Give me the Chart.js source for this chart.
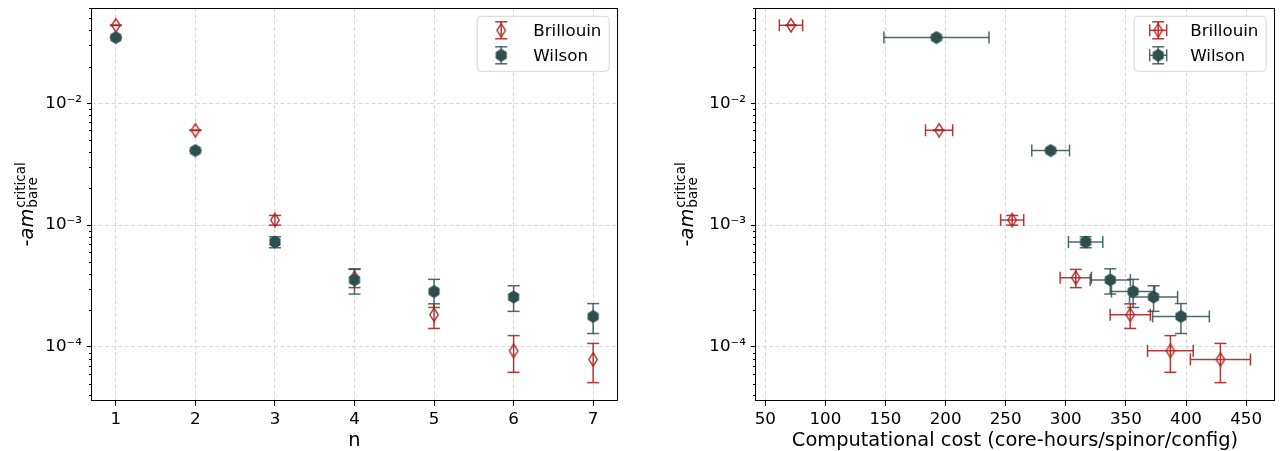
<!DOCTYPE html>
<html>
<head>
<meta charset="utf-8">
<script src="https://cdn.jsdelivr.net/npm/chart.js@4.4.1/dist/chart.umd.min.js"></script>
<style>
  html, body { margin: 0; padding: 0; background: #fff; }
  #wrap { position: relative; width: 1281px; height: 451px; overflow: hidden; }
  canvas { position: absolute; top: 0; }
</style>
</head>
<body>
<div id="wrap">
  <canvas id="left" width="640" height="451" style="left:0"></canvas>
  <canvas id="right" width="641" height="451" style="left:640px"></canvas>
</div>
<script>
// values
const nValues = [1, 2, 3, 4, 5, 6, 7];
const brillouinAm = [4.36e-2, 6.0e-3, 1.10e-3, 3.70e-4, 1.84e-4, 9.3e-5, 7.9e-5];
const brillouinAmErr = [2e-4, 3e-5, 1.0e-4, 6.3e-5, 4.2e-5, 3.1e-5, 2.8e-5];
const wilsonAm = [3.46e-2, 4.09e-3, 7.27e-4, 3.55e-4, 2.85e-4, 2.57e-4, 1.78e-4];
const wilsonAmErr = [3e-4, 3e-5, 7.5e-5, 8.3e-5, 7.4e-5, 6.1e-5, 4.9e-5];
const brillouinCost = [71.4, 194.6, 255.4, 308.3, 353.6, 387, 428.6];
const brillouinCostErr = [9.7, 11.3, 9.6, 13, 16.7, 19, 25];
const wilsonCost = [192.4, 287.4, 316.5, 337, 356, 373, 395.8];
const wilsonCostErr = [43.7, 15.7, 14.3, 16.7, 18, 20, 23.6];

const seriesNames = ['Brillouin', 'Wilson'];
const yMajorTicks = [1e-4, 1e-3, 1e-2];
const yTickLabels = ['10⁻⁴', '10⁻³', '10⁻²'];
const nTicks = [1, 2, 3, 4, 5, 6, 7];
const costTicks = [50, 100, 150, 200, 250, 300, 350, 400, 450];

const Y_MIN = 3.605e-5, Y_MAX = 0.0610;
const BRILL = '#b22222', WILSON = '#2f4f4f';
const GRID = '#d9d9d9';
const TICK_PX = 16.7, LABEL_PX = 19.4;
const CAP = 6;

Chart.defaults.font.family = '"DejaVu Sans"';
Chart.defaults.color = '#000';

// marker images
function diamondMarker() {
  const c = document.createElement('canvas');
  c.width = 12; c.height = 17;
  const g = c.getContext('2d');
  g.strokeStyle = BRILL; g.lineWidth = 1.4;
  g.beginPath();
  g.moveTo(6, 1.8); g.lineTo(10.2, 8.5); g.lineTo(6, 15.2); g.lineTo(1.8, 8.5);
  g.closePath(); g.stroke();
  return c;
}
function hexMarker() {
  const c = document.createElement('canvas');
  c.width = 14; c.height = 14;
  const g = c.getContext('2d');
  g.fillStyle = WILSON;
  g.beginPath();
  for (let k = 0; k < 6; k++) {
    const a = -Math.PI / 2 + k * Math.PI / 3;
    const px = 7 + 6.4 * Math.cos(a), py = 7 + 6.4 * Math.sin(a);
    k ? g.lineTo(px, py) : g.moveTo(px, py);
  }
  g.closePath(); g.fill();
  return c;
}
const diamondImg = diamondMarker();
const hexImg = hexMarker();

function logTicks() {
  const ticks = [];
  for (let e = -5; e <= -1; e++) {
    for (let m = 1; m <= 9; m++) {
      const v = m * Math.pow(10, e);
      if (v < Y_MIN || v > Y_MAX) continue;
      const k = yMajorTicks.findIndex(t => Math.abs(t - v) / t < 1e-9);
      ticks.push(k >= 0 ? { value: yMajorTicks[k], major: true } : { value: v, major: false });
    }
  }
  return ticks;
}

function seg(g, x1, y1, x2, y2) {
  g.beginPath(); g.moveTo(x1, y1); g.lineTo(x2, y2); g.stroke();
}

const errorBars = {
  id: 'errorBars',
  beforeDatasetDraw(chart, args) {
    const ds = chart.data.datasets[args.index];
    const xs = chart.scales.x, ys = chart.scales.y;
    const g = chart.ctx;
    g.save();
    g.strokeStyle = ds.barColor;
    g.lineWidth = 1.5;
    ds.data.forEach((p, i) => {
      const px = xs.getPixelForValue(p.x), py = ys.getPixelForValue(p.y);
      if (ds.yErr) {
        const y1 = ys.getPixelForValue(p.y - ds.yErr[i]);
        const y2 = ys.getPixelForValue(p.y + ds.yErr[i]);
        seg(g, px, y1, px, y2);
        seg(g, px - CAP, y1, px + CAP, y1);
        seg(g, px - CAP, y2, px + CAP, y2);
      }
      if (ds.xErr) {
        const x1 = xs.getPixelForValue(p.x - ds.xErr[i]);
        const x2 = xs.getPixelForValue(p.x + ds.xErr[i]);
        seg(g, x1, py, x2, py);
        seg(g, x1, py - CAP, x1, py + CAP);
        seg(g, x2, py - CAP, x2, py + CAP);
      }
    });
    g.restore();
  }
};

function drawYLabel(g, x, y) {
  const big = LABEL_PX + 'px "DejaVu Sans"';
  const it = 'italic ' + big;
  const small = (LABEL_PX * 0.7).toFixed(1) + 'px "DejaVu Sans"';
  g.save();
  g.translate(x, y);
  g.rotate(-Math.PI / 2);
  g.fillStyle = '#000';
  g.textAlign = 'left';
  g.textBaseline = 'alphabetic';
  g.font = big; const w1 = g.measureText('-').width;
  g.font = it; const w2 = g.measureText('am').width;
  g.font = small; const w3 = Math.max(g.measureText('critical').width, g.measureText('bare').width);
  let s = -(w1 + w2 + w3 + 1) / 2;
  g.font = big; g.fillText('-', s, 0); s += w1;
  g.font = it; g.fillText('am', s, 0); s += w2 + 1;
  g.font = small;
  g.fillText('critical', s, -8);
  g.fillText('bare', s, 3.5);
  g.restore();
}

function drawLegend(g, area, cross) {
  const w = 132, h = 55;
  const l = area.right - 8.3 - w, t = area.top + 8.3;
  g.save();
  g.fillStyle = 'rgba(255,255,255,0.8)';
  g.strokeStyle = 'rgba(204,204,204,0.8)';
  g.lineWidth = 1;
  g.beginPath();
  g.roundRect(l + 0.5, t + 0.5, w, h, 4);
  g.fill(); g.stroke();
  const rows = [
    { img: diamondImg, color: 'rgba(178,34,34,0.9)' },
    { img: hexImg, color: 'rgba(47,79,79,0.85)' }
  ];
  rows.forEach((r, k) => {
    const cx = l + 24.5, cy = t + 14.5 + k * 25;
    g.strokeStyle = r.color; g.lineWidth = 1.5;
    seg(g, cx, cy - 8.5, cx, cy + 8.5);
    seg(g, cx - CAP, cy - 8.5, cx + CAP, cy - 8.5);
    seg(g, cx - CAP, cy + 8.5, cx + CAP, cy + 8.5);
    if (cross) {
      seg(g, cx - 8.5, cy, cx + 8.5, cy);
      seg(g, cx - 8.5, cy - CAP, cx - 8.5, cy + CAP);
      seg(g, cx + 8.5, cy - CAP, cx + 8.5, cy + CAP);
    }
    g.drawImage(r.img, cx - r.img.width / 2, cy - r.img.height / 2);
    g.fillStyle = '#000';
    g.font = TICK_PX + 'px "DejaVu Sans"';
    g.textBaseline = 'middle';
    g.fillText(seriesNames[k], l + 56.5, cy + 1);
  });
  g.restore();
}

const decor = {
  id: 'decor',
  afterDatasetsDraw(chart) {
    const g = chart.ctx, a = chart.chartArea, ys = chart.scales.y;
    g.save();
    g.strokeStyle = '#000';
    g.lineWidth = 1;
    g.strokeRect(Math.round(a.left) - 0.5, Math.round(a.top) + 0.5,
      Math.round(a.right) - Math.round(a.left) + 1, Math.round(a.bottom) - Math.round(a.top) - 1);
    ys.ticks.forEach(tk => {
      if (tk.major) return;
      const y = Math.round(ys.getPixelForValue(tk.value)) + 0.5;
      seg(g, a.left - 3, y, a.left, y);
    });
    g.restore();
  },
  afterDraw(chart, args, opts) {
    const g = chart.ctx, a = chart.chartArea;
    drawLegend(g, a, opts.cross);
    drawYLabel(g, opts.labelX, (a.top + a.bottom) / 2);
  }
};

function makeChart(id, cfg) {
  const fontTick = { size: TICK_PX, family: '"DejaVu Sans"' };
  return new Chart(document.getElementById(id), {
    type: 'scatter',
    data: {
      datasets: [
        {
          label: seriesNames[0],
          data: cfg.bx.map((x, i) => ({ x, y: brillouinAm[i] })),
          yErr: brillouinAmErr,
          xErr: cfg.bxErr,
          barColor: 'rgba(178,34,34,0.9)',
          pointStyle: diamondImg,
          pointRadius: 6,
          order: 1
        },
        {
          label: seriesNames[1],
          data: cfg.wx.map((x, i) => ({ x, y: wilsonAm[i] })),
          yErr: wilsonAmErr,
          xErr: cfg.wxErr,
          barColor: 'rgba(47,79,79,0.85)',
          pointStyle: hexImg,
          pointRadius: 6,
          order: 0
        }
      ]
    },
    options: {
      responsive: false,
      animation: false,
      layout: { padding: { top: 7.5, right: cfg.padRight, bottom: 0, left: 0 } },
      plugins: {
        legend: { display: false },
        tooltip: { enabled: false },
        decor: { labelX: cfg.labelX, cross: !!cfg.bxErr }
      },
      scales: {
        x: {
          type: 'linear',
          min: cfg.xMin,
          max: cfg.xMax,
          afterBuildTicks: axis => { axis.ticks = cfg.xTicks.map(v => ({ value: v })); },
          ticks: { font: fontTick, color: '#000', padding: 4, autoSkip: false, maxRotation: 0 },
          grid: { color: GRID, tickLength: 5, tickColor: '#000', tickWidth: 1 },
          border: { display: false, dash: [4, 2.5] },
          title: {
            display: true,
            text: cfg.xTitle,
            color: '#000',
            font: { size: LABEL_PX, family: '"DejaVu Sans"' },
            padding: { top: 0, bottom: -2 }
          },
          afterFit: s => { s.height = 50; s.paddingLeft = 0; s.paddingRight = 0; }
        },
        y: {
          type: 'logarithmic',
          min: Y_MIN,
          max: Y_MAX,
          afterBuildTicks: axis => { axis.ticks = logTicks(); },
          ticks: {
            font: fontTick,
            color: '#000',
            padding: 5,
            autoSkip: false,
            callback: (v, i, ticks) => {
              const k = yMajorTicks.indexOf(v);
              return k >= 0 ? yTickLabels[k] : '';
            }
          },
          grid: {
            color: c => (c.tick && c.tick.major ? GRID : 'rgba(0,0,0,0)'),
            tickColor: c => (c.tick && c.tick.major ? '#000' : 'rgba(0,0,0,0)'),
            tickLength: 5,
            tickWidth: 1
          },
          border: { display: false, dash: [4, 2.5] },
          afterFit: s => { s.width = cfg.yWidth; s.paddingTop = 0; s.paddingBottom = 0; }
        }
      }
    },
    plugins: [errorBars, decor]
  });
}

makeChart('left', {
  bx: nValues, wx: nValues, bxErr: null, wxErr: null,
  xMin: 0.7, xMax: 7.3, xTicks: nTicks, xTitle: 'n',
  yWidth: 92, padRight: 23, labelX: 33
});

makeChart('right', {
  bx: brillouinCost, wx: wilsonCost, bxErr: brillouinCostErr, wxErr: wilsonCostErr,
  xMin: 42.3, xMax: 473.2, xTicks: costTicks,
  xTitle: 'Computational cost (core-hours/spinor/config)',
  yWidth: 116, padRight: 1, labelX: 53
});
</script>
</body>
</html>
